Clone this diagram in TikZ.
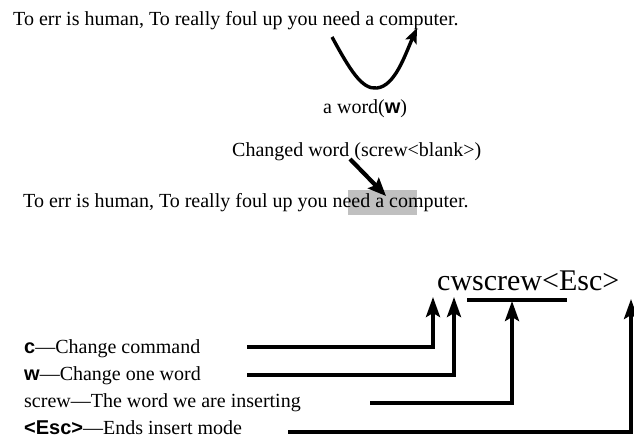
\documentclass[tikz,border=0pt]{standalone}
\usepackage{fontspec}
\setmainfont{Liberation Serif}
\setsansfont{Liberation Sans}
\usetikzlibrary{arrows.meta}
\newcommand{\keyword}[1]{{\sffamily\bfseries #1}}
\tikzset{
  txt/.style={anchor=base west,inner sep=0pt},
  pointer/.style={line width=3.6pt,-{Stealth[length=20pt,width=14pt,inset=4pt]}},
  curvearrow/.style={line width=3.4pt,-{Stealth[length=15pt,width=12pt,inset=3pt]}},
  hilite/.style={fill={rgb,255:red,192;green,192;blue,192}},
}
\begin{document}
\begin{tikzpicture}[x=1pt,y=-1pt]\fontsize{20}{24}\selectfont
\useasboundingbox (0,0) rectangle (634,439);
% before the change
\node[txt] (before) at (13,25) {To err is human, To really foul up you need a computer.};
\coordinate (b0) at (332,37);
\coordinate (b1) at (377,88);
\coordinate (b2) at (417,28);
\draw[curvearrow] (b0) .. controls (350,70) and (362,90) .. (b1) .. controls (395,86) and (405,55) .. (b2);
\node[txt] (aword) at (323,113) {a word(\keyword{w})};
% after the change
\node[txt] (changed) at (232,156) {Changed word (screw<blank>)};
\fill[hilite] (348,190) rectangle (417,215);
\node[txt] (after) at (23,207) {To err is human, To really foul up you need a computer.};
\coordinate (h0) at (350,159);
\coordinate (h1) at (386,196);
\draw[line width=4.2pt,-{Stealth[length=18pt,width=15pt,inset=3pt]}] (h0) -- (h1);
% the command and its parts
\node[txt,font=\fontsize{30}{36}\selectfont] (cmd) at (437,290) {cwscrew<Esc>};
\node[txt] (lc) at (24,353) {\keyword{c}—Change command};
\node[txt] (lw) at (24,380) {\keyword{w}—Change one word};
\node[txt] (ls) at (24,407) {screw—The word we are inserting};
\node[txt] (le) at (24,434) {\keyword{<Esc>}—Ends insert mode};
\coordinate (c0) at (247,347); \coordinate (c1) at (433,297);
\coordinate (w0) at (247,375); \coordinate (w1) at (454,297);
\coordinate (s0) at (370,403); \coordinate (s1) at (512,301);
\coordinate (e0) at (288,432); \coordinate (e1) at (631,299);
\coordinate (bar0) at (467,300); \coordinate (bar1) at (567,300);
\draw[pointer] (c0) -| (c1);
\draw[pointer] (w0) -| (w1);
\draw[pointer] (s0) -| (s1);
\draw[pointer] (e0) -| (e1);
\draw[line width=3.4pt] (bar0) -- (bar1);
\end{tikzpicture}
\end{document}
